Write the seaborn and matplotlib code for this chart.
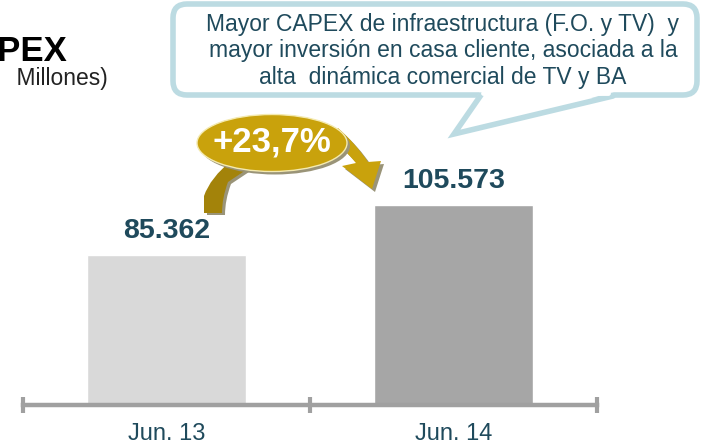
import matplotlib
matplotlib.use("Agg")
import matplotlib.pyplot as plt
import matplotlib.transforms as mtransforms
from matplotlib.patches import FancyBboxPatch, Polygon, Ellipse, PathPatch
from matplotlib.path import Path
import seaborn as sns
import pandas as pd

categories = ["Jun. 13", "Jun. 14"]
values = [85362, 105573]
value_labels = ["85.362", "105.573"]
bar_colors = ["#d9d9d9", "#a6a6a6"]
growth_label = "+23,7%"
title = "CAPEX"
subtitle = "(Ch$   Millones)"
callout = ("Mayor CAPEX de infraestructura (F.O. y TV)  y\n"
           "mayor inversión en casa cliente, asociada a la\n"
           "alta  dinámica comercial de TV y BA")

sns.set_theme(style="white")
plt.rcParams["font.family"] = ["Liberation Sans", "DejaVu Sans"]

W, H = 706, 446
fig = plt.figure(figsize=(W / 100, H / 100), dpi=100)
ax = fig.add_axes([23 / W, (H - 405) / H, 574 / W, 405 / H])

df = pd.DataFrame({"cat": categories, "val": values})
sns.barplot(data=df, x="cat", y="val", hue="cat", palette=bar_colors,
            width=0.555, ax=ax, legend=False, saturation=1)

ax.set_xlim(-0.5, 1.5)
ax.set_ylim(24732, 24732 + 405 * 404.2)
for s in ["top", "left", "right"]:
    ax.spines[s].set_visible(False)
ax.spines["bottom"].set_color("#a0a0a0")
ax.spines["bottom"].set_linewidth(3.2)
ax.spines["bottom"].set_zorder(5)
ax.set_yticks([])
ax.set_xlabel("")
ax.set_ylabel("")
ax.set_xticks([0, 1])
ax.set_xticklabels(categories, fontsize=17, color="#1f4a5c")
ax.tick_params(axis="x", which="major", length=0, pad=13, bottom=True)
ax.set_xticks([-0.5, 0.5, 1.5], minor=True)
ax.tick_params(axis="x", which="minor", length=11, width=3,
               color="#a0a0a0", direction="inout", bottom=True, labelbottom=False)

for i, (v, lab) in enumerate(zip(values, value_labels)):
    ax.annotate(lab, (i, v), xytext=(0, 12), textcoords="offset points",
                ha="center", va="baseline", fontsize=20.5, fontweight="bold",
                color="#1f4a5c")

# pixel transform (origin top-left)
px = mtransforms.Affine2D().scale(1 / W, -1 / H).translate(0, 1) + fig.transFigure

fig.text(67, 61, title, transform=px, ha="right", va="baseline",
         fontsize=25, fontweight="bold", color="black")
fig.text(108, 85, subtitle, transform=px, ha="right", va="baseline",
         fontsize=16.5, color="#222222")

# callout box
edge = "#bcdbe2"
box = FancyBboxPatch((173, 4), 524, 91, boxstyle="round,pad=0,rounding_size=14",
                     transform=px, facecolor="white", edgecolor=edge,
                     linewidth=4, zorder=10)
fig.add_artist(box)
tail = Polygon([(480, 92), (454, 134), (614, 92)], closed=True, transform=px,
               facecolor="white", edgecolor="none", zorder=11)
fig.add_artist(tail)
fig.add_artist(plt.Line2D([481, 454, 613], [95, 134, 96], transform=px,
                          color=edge, linewidth=4, zorder=12,
                          solid_joinstyle="miter"))
fig.add_artist(plt.Line2D([483, 608], [93, 93], transform=px,
                          color="white", linewidth=3.5, zorder=12))
fig.text(443, 51, callout, transform=px, ha="center", va="center",
         fontsize=16.5, color="#1f4a5c", linespacing=1.2, zorder=13)

# growth arrows
gold = "#c9a20c"
dark_gold = "#a3830a"
shadow = "#9a9478"
# left band (behind ellipse)
lb = Path([(232, 160), (210, 178), (204, 196), (204, 213), (222, 213),
           (222, 198), (228, 182), (252, 166), (232, 160)],
          [Path.MOVETO, Path.CURVE3, Path.CURVE3, Path.LINETO, Path.LINETO,
           Path.CURVE3, Path.CURVE3, Path.LINETO, Path.CLOSEPOLY])
fig.add_artist(PathPatch(lb.transformed(mtransforms.Affine2D().translate(3, 2)),
                         transform=px, facecolor=shadow, edgecolor="none", zorder=14))
fig.add_artist(PathPatch(lb, transform=px, facecolor=dark_gold, edgecolor="none", zorder=15))
# right arrow
ra = Path([(330, 136), (345, 150), (356, 163), (342, 166), (372, 189),
           (381, 161), (368, 162), (356, 144), (338, 128), (330, 136)],
          [Path.MOVETO, Path.CURVE3, Path.CURVE3, Path.LINETO, Path.LINETO,
           Path.LINETO, Path.LINETO, Path.CURVE3, Path.CURVE3, Path.CLOSEPOLY])
fig.add_artist(PathPatch(ra.transformed(mtransforms.Affine2D().translate(3, 3)),
                         transform=px, facecolor=shadow, edgecolor="none", zorder=14))
fig.add_artist(PathPatch(ra, transform=px, facecolor=gold, edgecolor="none", zorder=15))
fig.add_artist(Ellipse((275, 146), 150, 57, transform=px, facecolor=shadow,
                       edgecolor="none", zorder=16))
fig.add_artist(Ellipse((272, 143), 150, 57, transform=px, facecolor=gold,
                       edgecolor="#f4eab0", linewidth=1, zorder=17))
fig.text(272, 142, growth_label, transform=px, ha="center", va="center",
         fontsize=25, fontweight="bold", color="white", zorder=18)

fig.savefig("out.png", dpi=100)
